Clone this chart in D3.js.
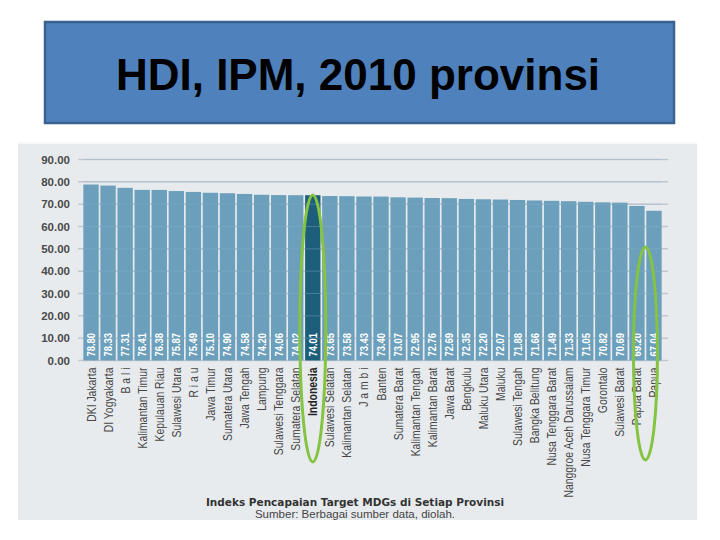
<!DOCTYPE html>
<html><head><meta charset="utf-8">
<script src="https://cdn.jsdelivr.net/npm/d3@7"></script>
<style>html,body{margin:0;padding:0;background:#fff;}svg{display:block;}</style>
</head><body>
<svg id="c" width="720" height="540"></svg>
<script>
const title = "HDI, IPM, 2010 provinsi";
const categories = ["DKI Jakarta","DI Yogyakarta","B a l i","Kalimantan Timur","Kepulauan Riau","Sulawesi Utara","R i a u","Jawa Timur","Sumatera Utara","Jawa Tengah","Lampung","Sulawesi Tenggara","Sumatera Selatan","Indonesia","Sulawesi Selatan","Kalimantan Selatan","J a m b i","Banten","Sumatera Barat","Kalimantan Tengah","Kalimantan Barat","Jawa Barat","Bengkulu","Maluku Utara","Maluku","Sulawesi Tengah","Bangka Belitung","Nusa Tenggara Barat","Nanggroe Aceh Darussalam","Nusa Tenggara Timur","Gorontalo","Sulawesi Barat","Papua Barat","Papua"];
const values = [78.80,78.33,77.31,76.41,76.38,75.87,75.49,75.10,74.90,74.58,74.20,74.06,74.02,74.01,73.65,73.58,73.43,73.40,73.07,72.95,72.76,72.69,72.35,72.20,72.07,71.88,71.66,71.49,71.33,71.05,70.82,70.69,69.20,67.04];
const yTicks = [0,10,20,30,40,50,60,70,80,90];
const highlight = ["Indonesia"];
const circled = [["Indonesia"],["Papua Barat","Papua"]];
const footer1 = "Indeks Pencapaian Target MDGs di Setiap Provinsi";
const footer2 = "Sumber: Berbagai sumber data, diolah.";

const svg = d3.select("#c");
const sans = "'Liberation Sans',Arial,sans-serif";

// title box
svg.append("rect").attr("x",45).attr("y",22).attr("width",629).attr("height",101)
  .attr("fill","#4f81bd").attr("stroke","#3a6190").attr("stroke-width",2.5);
svg.append("text").attr("x",358).attr("y",90).attr("text-anchor","middle")
  .attr("font-family",sans).attr("font-weight","bold")
  .attr("font-size",44).attr("fill","#000").text(title);

// chart panel
svg.append("rect").attr("x",18).attr("y",142).attr("width",679).attr("height",378).attr("fill","#e8ebee");
svg.append("line").attr("x1",18).attr("x2",697).attr("y1",143).attr("y2",143).attr("stroke","#f6f7f8").attr("stroke-width",2);

const x = d3.scaleBand().domain(categories).range([83,662]).paddingInner(0.1).paddingOuter(0.02);
const y = d3.scaleLinear().domain([0,90]).range([360.5,159.5]);

// gridlines
svg.append("g").selectAll("line").data(yTicks).join("line")
  .attr("x1",78).attr("x2",668).attr("y1",d=>y(d)).attr("y2",d=>y(d))
  .attr("stroke","#c3c8d0").attr("stroke-width",1.5);

// y labels
const yAxis = d3.axisLeft(y).tickValues(yTicks).tickFormat(d3.format(".2f")).tickSize(0).tickPadding(0);
const ya = svg.append("g").attr("transform","translate(70,0)").call(yAxis);
ya.select(".domain").remove();
ya.selectAll("text").attr("font-family",sans).attr("font-weight","bold")
  .attr("font-size",11.5).attr("fill","#4a4a4a");

// bars
svg.append("g").selectAll("rect").data(categories).join("rect")
  .attr("x",d=>x(d)).attr("width",x.bandwidth())
  .attr("y",(d,i)=>y(values[i])).attr("height",(d,i)=>y(0)-y(values[i]))
  .attr("fill",d=>highlight.includes(d)?"#1d5f7b":"#6b9fbb");

// faint gridlines over bars
svg.append("g").selectAll("line").data(yTicks.slice(1)).join("line")
  .attr("x1",83).attr("x2",662).attr("y1",d=>y(d)).attr("y2",d=>y(d))
  .attr("stroke","#8fb6cc").attr("stroke-width",1).attr("opacity",0.35);

// value labels
svg.append("g").selectAll("text").data(categories).join("text")
  .attr("transform",d=>`translate(${x(d)+x.bandwidth()/2+4},${y(0)-4}) rotate(-90) scale(0.82,1)`)
  .attr("font-family",sans).attr("font-weight","bold").attr("font-size",11.5)
  .attr("fill","#fff").text((d,i)=>values[i].toFixed(2));

// x labels
svg.append("g").selectAll("text").data(categories).join("text")
  .attr("transform",d=>`translate(${x(d)+x.bandwidth()/2+4.5},${y(0)+7}) rotate(-90) scale(0.8,1)`)
  .attr("text-anchor","end")
  .attr("font-family",sans).attr("font-size",13)
  .attr("font-weight",d=>highlight.includes(d)?"bold":"normal")
  .attr("fill",d=>highlight.includes(d)?"#222":"#474747").text(d=>d);

// green annotation loops
const loops = [{names:circled[0],top:195,bottom:462,rx:13},{names:circled[1],top:247,bottom:460,rx:12}];
loops.forEach(l=>{
  const cx = d3.mean(l.names,n=>x(n)+x.bandwidth()/2);
  svg.append("ellipse").attr("cx",cx).attr("cy",(l.top+l.bottom)/2)
    .attr("rx",l.rx).attr("ry",(l.bottom-l.top)/2)
    .attr("fill","none").attr("stroke","#84c441").attr("stroke-width",3);
});

// footer
svg.append("text").attr("x",355).attr("y",506).attr("text-anchor","middle")
  .attr("font-family","'DejaVu Sans',Verdana,sans-serif").attr("font-weight","bold").attr("font-size",10.5)
  .attr("fill","#333").text(footer1);
svg.append("text").attr("x",355).attr("y",518).attr("text-anchor","middle")
  .attr("font-family",sans).attr("font-size",11.5)
  .attr("fill","#444").text(footer2);
</script>
</body></html>
